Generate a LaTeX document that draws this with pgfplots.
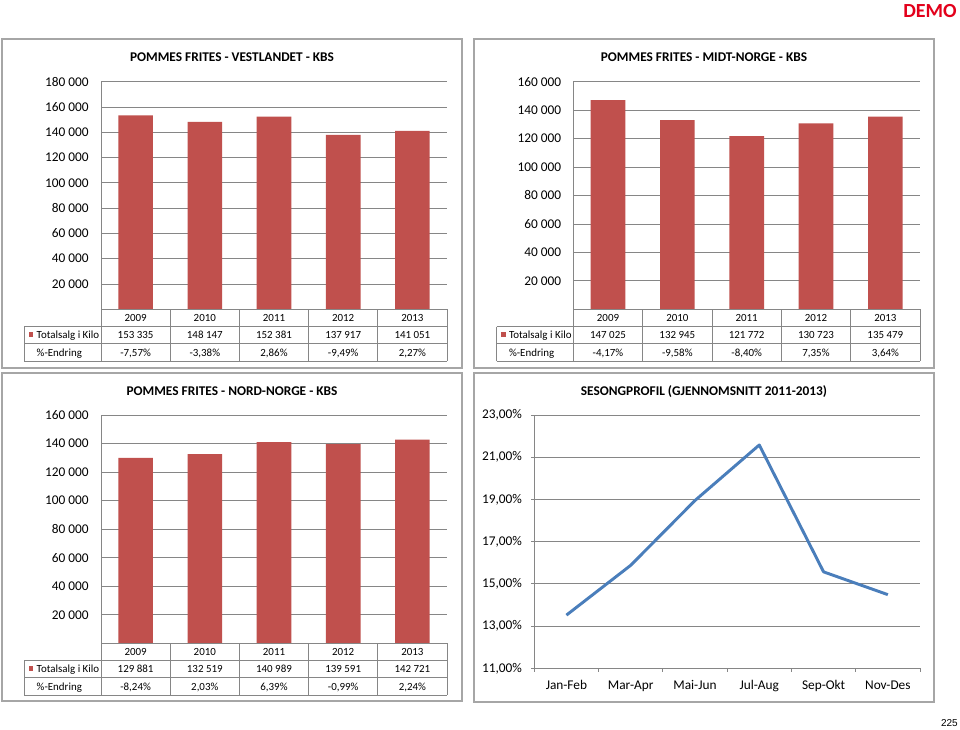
\documentclass[border=0pt]{standalone}
\usepackage{pgfplots}
\pgfplotsset{compat=1.18}
\usepackage{fontspec}
\setmainfont{Carlito}
\newfontfamily\arialfont{Liberation Sans}
\definecolor{barred}{HTML}{C0504D}
\definecolor{lineblue}{HTML}{4A7EBB}
\definecolor{gridgray}{HTML}{868686}
\definecolor{framegray}{HTML}{A6A6A6}
\definecolor{demored}{HTML}{E3001B}
\newcommand{\rh}{12.95pt}
\newcommand{\tabfont}{\fontsize{8.2}{10}\selectfont}
\newcommand{\tickfont}{\fontsize{10}{12}\selectfont}
\newcommand{\titlefont}{\bfseries\fontsize{10}{12}\selectfont}
% table grid drawn in axis coordinates below the bars
\newcommand{\tablegrid}{%
  \draw[gridgray,line width=0.6pt] (axis cs:-0.5,0) -- (axis cs:4.5,0);
  \draw[gridgray,line width=0.6pt] ([xshift=-57.5pt,yshift=-\rh]axis cs:-0.5,0) -- ([yshift=-\rh]axis cs:4.5,0);
  \draw[gridgray,line width=0.6pt] ([xshift=-57.5pt,yshift=-2*\rh]axis cs:-0.5,0) -- ([yshift=-2*\rh]axis cs:4.5,0);
  \draw[gridgray,line width=0.6pt] ([xshift=-57.5pt,yshift=-3*\rh]axis cs:-0.5,0) -- ([yshift=-3*\rh]axis cs:4.5,0);
  \draw[gridgray,line width=0.6pt] ([xshift=-57.5pt,yshift=-\rh]axis cs:-0.5,0) -- ([xshift=-57.5pt,yshift=-3*\rh]axis cs:-0.5,0);
  \pgfplotsinvokeforeach{-0.5,0.5,1.5,2.5,3.5,4.5}{%
    \draw[gridgray,line width=0.6pt] (axis cs:##1,0) -- ([yshift=-3*\rh]axis cs:##1,0);}
  \fill[barred] ([xshift=-54.3pt,yshift=-20.9pt]axis cs:-0.5,0) rectangle ([xshift=-50.8pt,yshift=-17.4pt]axis cs:-0.5,0);
  \node[font=\tabfont,anchor=base west,inner sep=0pt] at ([xshift=-48.4pt,yshift=-22.2pt]axis cs:-0.5,0) {Totalsalg i Kilo};
  \node[font=\tabfont,anchor=base west,inner sep=0pt] at ([xshift=-48.4pt,yshift=-35.2pt]axis cs:-0.5,0) {\%-Endring};
  \tabrow{-9.3pt}{2009}{2010}{2011}{2012}{2013}%
}
\newcommand{\tabrow}[6]{%
  \node[font=\tabfont,anchor=base,inner sep=0pt] at ([yshift=#1]axis cs:0,0) {#2};
  \node[font=\tabfont,anchor=base,inner sep=0pt] at ([yshift=#1]axis cs:1,0) {#3};
  \node[font=\tabfont,anchor=base,inner sep=0pt] at ([yshift=#1]axis cs:2,0) {#4};
  \node[font=\tabfont,anchor=base,inner sep=0pt] at ([yshift=#1]axis cs:3,0) {#5};
  \node[font=\tabfont,anchor=base,inner sep=0pt] at ([yshift=#1]axis cs:4,0) {#6};
}
\pgfplotsset{
  barax/.style={
    scale only axis, anchor=south west, clip=false,
    width=259.5pt, height=170.7pt,
    xmin=-0.5, xmax=4.5, ymin=0,
    axis line style={draw=none},
    xtick=\empty,
    scaled y ticks=false,
    ymajorgrids, major grid style={gridgray,line width=0.6pt},
    ytick style={draw=none},
    yticklabel style={font=\tickfont,anchor=east,inner sep=0pt,xshift=-9pt},
    /pgf/number format/assume math mode=true,
    ybar, bar width=0.5,
  },
}
\begin{document}
\begin{tikzpicture}
\useasboundingbox (0,0) rectangle (720pt,546.75pt);
\fill[white] (0,0) rectangle (720pt,546.75pt);
% frames
\draw[framegray,line width=0.9pt] (1.5pt,270.75pt) rectangle (346.5pt,517.5pt);
\draw[framegray,line width=0.9pt] (355.5pt,270.75pt) rectangle (700.5pt,517.5pt);
\draw[framegray,line width=0.9pt] (1.5pt,21pt) rectangle (346.5pt,267pt);
\draw[framegray,line width=0.9pt] (355.5pt,20.25pt) rectangle (700.5pt,267pt);
% titles
\node[font=\titlefont] at (174pt,503.5pt) {POMMES FRITES - VESTLANDET - KBS};
\node[font=\titlefont] at (528pt,503.8pt) {POMMES FRITES - MIDT-NORGE - KBS};
\node[font=\titlefont] at (174pt,253.5pt) {POMMES FRITES - NORD-NORGE - KBS};
\node[font=\titlefont] at (528pt,253pt) {SESONGPROFIL (GJENNOMSNITT 2011-2013)};
\node[anchor=east,font=\bfseries\fontsize{15}{18}\selectfont,text=demored,inner sep=0pt] at (717.75pt,538.5pt) {DEMO};
\node[anchor=east,font=\arialfont\fontsize{7.5}{9}\selectfont,inner sep=0pt] at (718.5pt,4.1pt) {225};

% Top-left: Vestlandet
\begin{axis}[barax, at={(75.75pt,314.8pt)}, ymax=180000,
  ytick={0,20000,40000,60000,80000,100000,120000,140000,160000,180000},
  yticklabels={{},20 000,40 000,60 000,80 000,100 000,120 000,140 000,160 000,180 000}]
\addplot[fill=barred,draw=none] coordinates {(0,153335) (1,148147) (2,152381) (3,137917) (4,141051)};
\draw[gridgray,line width=0.6pt] (rel axis cs:0,0) -- (rel axis cs:0,1);
\tablegrid
\tabrow{-22.2pt}{153 335}{148 147}{152 381}{137 917}{141 051}
\tabrow{-35.2pt}{-7,57\%}{-3,38\%}{2,86\%}{-9,49\%}{2,27\%}
\end{axis}

% Top-right: Midt-Norge
\begin{axis}[barax, at={(430pt,314.8pt)}, width=260pt, ymax=160000,
  ytick={0,20000,40000,60000,80000,100000,120000,140000,160000},
  yticklabels={{},20 000,40 000,60 000,80 000,100 000,120 000,140 000,160 000}]
\addplot[fill=barred,draw=none] coordinates {(0,147025) (1,132945) (2,121772) (3,130723) (4,135479)};
\draw[gridgray,line width=0.6pt] (rel axis cs:0,0) -- (rel axis cs:0,1);
\tablegrid
\tabrow{-22.2pt}{147 025}{132 945}{121 772}{130 723}{135 479}
\tabrow{-35.2pt}{-4,17\%}{-9,58\%}{-8,40\%}{7,35\%}{3,64\%}
\end{axis}

% Bottom-left: Nord-Norge
\begin{axis}[barax, at={(75.75pt,64.3pt)}, height=171.2pt, ymax=160000,
  ytick={0,20000,40000,60000,80000,100000,120000,140000,160000},
  yticklabels={{},20 000,40 000,60 000,80 000,100 000,120 000,140 000,160 000}]
\addplot[fill=barred,draw=none] coordinates {(0,129881) (1,132519) (2,140989) (3,139591) (4,142721)};
\draw[gridgray,line width=0.6pt] (rel axis cs:0,0) -- (rel axis cs:0,1);
\tablegrid
\tabrow{-22.2pt}{129 881}{132 519}{140 989}{139 591}{142 721}
\tabrow{-35.2pt}{-8,24\%}{2,03\%}{6,39\%}{-0,99\%}{2,24\%}
\end{axis}

% Bottom-right: Sesongprofil
\begin{axis}[scale only axis, anchor=south west, clip=false,
  at={(400.7pt,45.5pt)}, width=289.3pt, height=190pt,
  xmin=-0.5, xmax=5.5, ymin=11, ymax=23,
  axis line style={draw=none},
  xtick={0,1,2,3,4,5},
  xticklabels={Jan-Feb,Mar-Apr,Mai-Jun,Jul-Aug,Sep-Okt,Nov-Des},
  ytick={11,13,15,17,19,21,23},
  yticklabels={{11,00\%},{13,00\%},{15,00\%},{17,00\%},{19,00\%},{21,00\%},{23,00\%}},
  tick style={draw=none},
  ymajorgrids, major grid style={gridgray,line width=0.6pt},
  yticklabel style={font=\tickfont,anchor=east,inner sep=0pt,xshift=-9pt},
  xticklabel style={font=\tickfont,anchor=base,inner sep=0pt,yshift=-15.7pt},
  /pgf/number format/assume math mode=true]
\draw[gridgray,line width=0.6pt] (axis cs:-0.5,11) -- (axis cs:-0.5,23);
\pgfplotsinvokeforeach{11,13,15,17,19,21,23}{\draw[gridgray,line width=0.6pt] (axis cs:-0.5,#1) -- ([xshift=-2.75pt]axis cs:-0.5,#1);}
\pgfplotsinvokeforeach{-0.5,0.5,1.5,2.5,3.5,4.5,5.5}{\draw[gridgray,line width=0.6pt] (axis cs:#1,11) -- ([yshift=-2.75pt]axis cs:#1,11);}
\addplot[lineblue,line width=2.2pt,line join=round,mark=none] coordinates {(0,13.52) (1,15.88) (2,18.95) (3,21.58) (4,15.57) (5,14.49)};
\end{axis}
\end{tikzpicture}
\end{document}
